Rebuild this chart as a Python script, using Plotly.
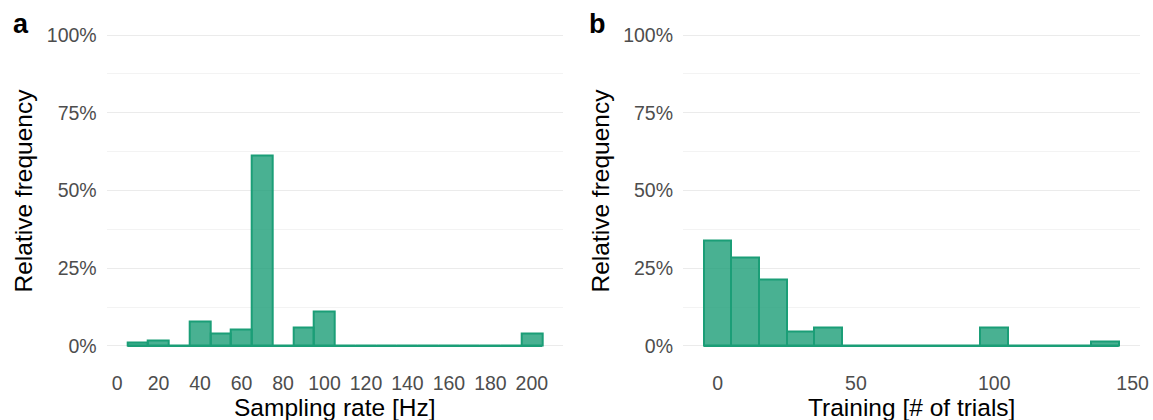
import plotly.graph_objects as go

# ---- data (relative frequency, %), bins of width 10 ----
rate_centers = [10, 20, 30, 40, 50, 60, 70, 80, 90, 100, 110, 120, 130, 140, 150, 160, 170, 180, 190, 200]
rate_pct = [1.1, 1.7, 0, 8.0, 3.9, 5.4, 61.3, 0, 6.0, 11.0, 0, 0, 0, 0, 0, 0, 0, 0, 0, 3.9]

train_centers = [0, 10, 20, 30, 40, 50, 60, 70, 80, 90, 100, 110, 120, 130, 140]
train_pct = [33.9, 28.4, 21.5, 4.6, 5.9, 0, 0, 0, 0, 0, 5.9, 0, 0, 0, 1.4]

bin_width = 10
rate_ticks = [0, 20, 40, 60, 80, 100, 120, 140, 160, 180, 200]
train_ticks = [0, 50, 100, 150]
y_ticks = [0, 25, 50, 75, 100]
y_ticklabels = ["0%", "25%", "50%", "75%", "100%"]

# ---- style ----
LINE = "#1B9E77"
FILL = "rgba(27,158,119,0.8)"
FONT = "Liberation Sans, Arial, sans-serif"
W, H = 1153, 420

fig = go.Figure()

def add_hist(centers, vals, xa, ya):
    lo = min(centers) - bin_width / 2
    hi = max(centers) + bin_width / 2
    fig.add_trace(go.Scatter(x=[lo, hi], y=[0, 0], mode="lines",
                             line=dict(color=LINE, width=2),
                             xaxis=xa, yaxis=ya, showlegend=False, hoverinfo="skip"))
    fig.add_trace(go.Bar(x=centers, y=vals, width=[bin_width] * len(centers),
                         marker=dict(color=FILL, line=dict(color=LINE, width=2)),
                         xaxis=xa, yaxis=ya, showlegend=False))

add_hist(rate_centers, rate_pct, "x", "y")
add_hist(train_centers, train_pct, "x2", "y2")

# plot-area geometry (pixels)
ya_top, ya_bot = 19.5, 361.5
pa = (106.7, 563.0)
pb = (683.0, 1139.5)
ydom = [1 - ya_bot / H, 1 - ya_top / H]

def xaxis_cfg(dom, rng, ticks):
    return dict(domain=[dom[0] / W, dom[1] / W], range=rng, tickvals=ticks,
                showgrid=False, zeroline=False, showline=False, ticks="",
                tickfont=dict(family=FONT, size=19.5, color="#4D4D4D"),
                ticklabelstandoff=8, automargin=False, fixedrange=True)

def yaxis_cfg(anchor):
    return dict(domain=ydom, range=[-5, 105], tickvals=y_ticks, ticktext=y_ticklabels,
                showgrid=True, gridcolor="#EBEBEB", gridwidth=1.3,
                minor=dict(tickvals=[12.5, 37.5, 62.5, 87.5], showgrid=True,
                           gridcolor="#F3F3F3", gridwidth=0.9),
                zeroline=False, showline=False, ticks="",
                tickfont=dict(family=FONT, size=19.5, color="#4D4D4D"),
                ticklabelstandoff=9, automargin=False, anchor=anchor, fixedrange=True)

rate_range = [min(rate_centers) - bin_width / 2 - 10, max(rate_centers) + bin_width / 2 + 10]
train_range = [min(train_centers) - bin_width / 2 - 7.5, max(train_centers) + bin_width / 2 + 7.5]

fig.update_layout(
    width=W, height=H,
    margin=dict(l=0, r=0, t=0, b=0),
    paper_bgcolor="white", plot_bgcolor="white",
    bargap=0, barmode="overlay",
    xaxis=xaxis_cfg(pa, rate_range, rate_ticks),
    yaxis=yaxis_cfg("x"),
    xaxis2=dict(xaxis_cfg(pb, train_range, train_ticks), anchor="y2"),
    yaxis2=yaxis_cfg("x2"),
    font=dict(family=FONT),
)

ann = []
title_font = dict(family=FONT, size=24.5, color="black")
# axis titles
for (x0, x1), txt in [(pa, "Sampling rate [Hz]"), (pb, "Training [# of trials]")]:
    ann.append(dict(x=(x0 + x1) / 2 / W, y=1 - 407 / H, xref="paper", yref="paper",
                    text=txt, showarrow=False, font=title_font,
                    xanchor="center", yanchor="middle"))
for xc in [23, 600]:
    ann.append(dict(x=xc / W, y=1 - 190.5 / H, xref="paper", yref="paper",
                    text="Relative frequency", showarrow=False, font=title_font,
                    textangle=-90, xanchor="center", yanchor="middle"))
# panel tags
for xc, tag in [(20.5, "a"), (597, "b")]:
    ann.append(dict(x=xc / W, y=1 - 24 / H, xref="paper", yref="paper",
                    text="<b>%s</b>" % tag, showarrow=False,
                    font=dict(family=FONT, size=27, color="black"),
                    xanchor="center", yanchor="middle"))
fig.update_layout(annotations=ann)

fig.write_html("out.html")
